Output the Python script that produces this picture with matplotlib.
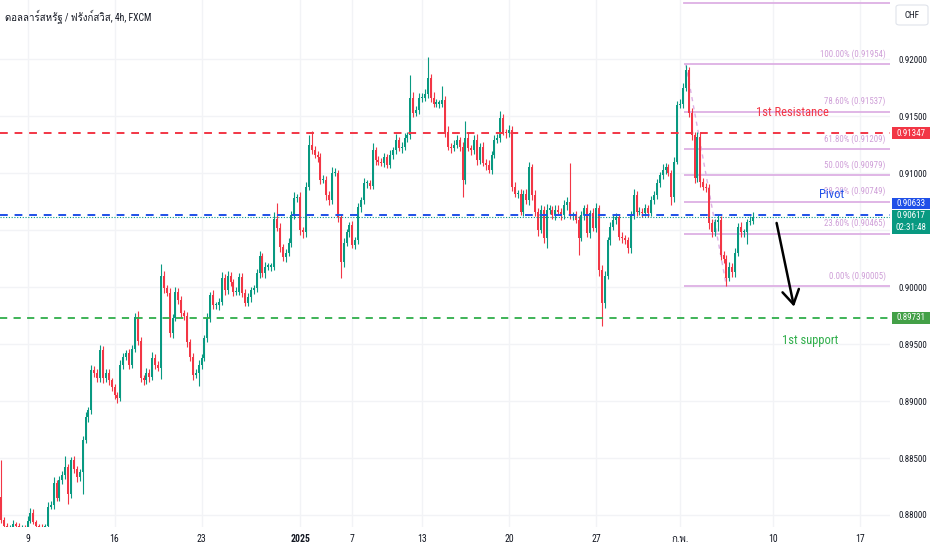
import numpy as np
import matplotlib
matplotlib.use("Agg")
import matplotlib.pyplot as plt
import matplotlib.font_manager as fm
from matplotlib.ft2font import FT2Font
from matplotlib.patches import Rectangle, FancyBboxPatch

# ---------------- data ----------------
title = "ดอลลาร์สหรัฐ / ฟรังก์สวิส, 4h, FXCM"
first_open = 0.8816
closes = [
    0.8796, 0.8790, 0.8788, 0.8789, 0.8792, 0.8790, 0.8787, 0.8789, 0.8788, 0.8795,
    0.8802, 0.8794, 0.8790, 0.8789, 0.8787, 0.8790, 0.8807, 0.8809, 0.8828, 0.8815,
    0.8831, 0.8835, 0.8842, 0.8818, 0.8848, 0.8840, 0.8833, 0.8838, 0.8866, 0.8886,
    0.8892, 0.8927, 0.8925, 0.8920, 0.8945, 0.8920, 0.8925, 0.8918, 0.8912, 0.8905,
    0.8903, 0.8932, 0.8939, 0.8942, 0.8932, 0.8946, 0.8974, 0.8953, 0.8920, 0.8918,
    0.8925, 0.8921, 0.8938, 0.8932, 0.8929, 0.9010, 0.8999, 0.8995, 0.8960, 0.8973,
    0.8996, 0.8989, 0.8977, 0.8975, 0.8952, 0.8939, 0.8923, 0.8925, 0.8932, 0.8938,
    0.8955, 0.8973, 0.8993, 0.8984, 0.8984, 0.8987, 0.9008, 0.8997, 0.9010, 0.9004,
    0.8996, 0.8996, 0.9009, 0.8995, 0.8986, 0.8991, 0.8997, 0.8999, 0.9012, 0.9027,
    0.9012, 0.9018, 0.9018, 0.9018, 0.9060, 0.9052, 0.9035, 0.9026, 0.9030, 0.9039,
    0.9063, 0.9078, 0.9079, 0.9050, 0.9048, 0.9088, 0.9125, 0.9120, 0.9116, 0.9114,
    0.9094, 0.9094, 0.9081, 0.9076, 0.9100, 0.9100, 0.9061, 0.9022, 0.9039, 0.9048,
    0.9054, 0.9037, 0.9041, 0.9070, 0.9076, 0.9091, 0.9091, 0.9089, 0.9120, 0.9111,
    0.9110, 0.9109, 0.9114, 0.9107, 0.9116, 0.9120, 0.9129, 0.9122, 0.9123, 0.9131,
    0.9133, 0.9166, 0.9153, 0.9155, 0.9166, 0.9166, 0.9169, 0.9183, 0.9166, 0.9161,
    0.9161, 0.9161, 0.9164, 0.9136, 0.9123, 0.9122, 0.9125, 0.9129, 0.9123, 0.9094,
    0.9131, 0.9122, 0.9120, 0.9129, 0.9111, 0.9123, 0.9109, 0.9107, 0.9103, 0.9116,
    0.9129, 0.9131, 0.9148, 0.9136, 0.9135, 0.9138, 0.9088, 0.9082, 0.9082, 0.9066,
    0.9082, 0.9076, 0.9105, 0.9081, 0.9066, 0.9050, 0.9068, 0.9043, 0.9068, 0.9068,
    0.9063, 0.9068, 0.9066, 0.9063, 0.9072, 0.9075, 0.9063, 0.9063, 0.9059, 0.9043,
    0.9063, 0.9069, 0.9047, 0.9065, 0.9052, 0.9069, 0.9015, 0.8986, 0.9010, 0.9041,
    0.9053, 0.9059, 0.9061, 0.9044, 0.9043, 0.9041, 0.9034, 0.9063, 0.9081, 0.9066,
    0.9066, 0.9065, 0.9069, 0.9065, 0.9076, 0.9081, 0.9091, 0.9098, 0.9103, 0.9105,
    0.9100, 0.9079, 0.9110, 0.9160, 0.9161, 0.9175, 0.9190, 0.9153, 0.9133, 0.9096,
    0.9132, 0.9092, 0.9088, 0.9087, 0.9056, 0.9048, 0.9057, 0.9059, 0.9028, 0.9025,
    0.9008, 0.9018, 0.9013, 0.9030, 0.9053, 0.9048, 0.9048, 0.9057, 0.9058, 0.90617,
]
# wick lengths beyond the candle body, in pips (0.0001)
upper_wick_pips = [
    32, 2, 3, 2, 4, 2, 3, 2, 2, 4, 4, 3, 2, 2, 3, 2, 4, 3, 5, 3,
    3, 4, 10, 3, 3, 4, 3, 2, 3, 4, 3, 5, 4, 3, 4, 3, 3, 3, 2, 3,
    3, 4, 3, 3, 4, 3, 3, 5, 3, 3, 4, 3, 5, 3, 3, 10, 4, 3, 4, 3,
    4, 3, 3, 3, 3, 2, 3, 3, 4, 3, 3, 4, 3, 4, 3, 3, 5, 3, 4, 3,
    3, 4, 3, 3, 3, 4, 3, 3, 4, 5, 3, 4, 3, 3, 6, 14, 4, 3, 3, 4,
    4, 5, 3, 4, 3, 4, 8, 12, 4, 3, 4, 4, 3, 3, 5, 4, 3, 3, 4, 3,
    3, 4, 3, 4, 3, 5, 3, 3, 6, 3, 4, 3, 4, 3, 4, 3, 5, 3, 4, 4,
    3, 20, 5, 4, 4, 4, 5, 19, 4, 5, 4, 3, 12, 4, 5, 3, 4, 4, 3, 4,
    15, 4, 3, 4, 5, 3, 4, 3, 4, 3, 4, 3, 6, 4, 3, 4, 3, 4, 3, 4,
    3, 4, 5, 3, 4, 3, 4, 3, 5, 4, 3, 4, 4, 3, 4, 4, 34, 3, 4, 3,
    4, 3, 4, 3, 4, 5, 3, 4, 4, 3, 4, 5, 4, 3, 4, 3, 3, 4, 5, 3,
    4, 3, 4, 3, 4, 3, 4, 3, 5, 4, 3, 3, 4, 3, 4, 4, 5, 3, 4, 3,
    4, 3, 4, 3, 3, 4, 3, 4, 3, 4, 3, 4, 3, 4, 3, 4, 3, 3, 4, 4,
]
lower_wick_pips = [
    3, 2, 2, 2, 2, 3, 2, 2, 2, 3, 2, 2, 2, 3, 2, 2, 3, 2, 4, 3,
    3, 4, 3, 8, 3, 3, 4, 3, 20, 3, 4, 3, 4, 3, 3, 4, 3, 4, 3, 3,
    5, 3, 4, 3, 4, 3, 3, 4, 3, 4, 3, 4, 3, 4, 3, 10, 4, 3, 4, 5,
    3, 4, 3, 4, 5, 4, 5, 3, 12, 4, 3, 3, 4, 3, 3, 4, 3, 4, 3, 3,
    4, 3, 3, 4, 3, 3, 4, 3, 3, 4, 3, 4, 3, 4, 3, 3, 4, 3, 4, 3,
    4, 3, 3, 4, 5, 4, 3, 3, 3, 4, 4, 3, 5, 4, 3, 3, 4, 14, 4, 3,
    4, 3, 4, 3, 4, 3, 4, 3, 3, 4, 3, 3, 4, 3, 3, 4, 3, 3, 4, 3,
    4, 3, 4, 3, 3, 4, 3, 3, 4, 3, 3, 4, 3, 4, 3, 4, 3, 3, 4, 15,
    4, 3, 4, 3, 4, 3, 3, 4, 3, 4, 3, 3, 4, 3, 4, 3, 4, 3, 4, 3,
    4, 3, 4, 5, 4, 5, 3, 4, 9, 4, 3, 4, 3, 4, 3, 4, 3, 4, 3, 15,
    3, 4, 3, 4, 3, 4, 5, 20, 4, 3, 4, 3, 4, 3, 4, 3, 4, 4, 3, 4,
    3, 4, 3, 4, 3, 3, 4, 3, 3, 4, 3, 7, 4, 2, 3, 4, 3, 4, 4, 5,
    4, 4, 3, 4, 5, 4, 3, 8, 4, 4, 7, 3, 4, 4, 3, 4, 4, 10, 3, 3,
]

x_tick_pos = [9, 39, 69, 103, 121, 145, 175, 205, 234, 266, 296]
x_tick_labels = ["9", "16", "23", "2025", "7", "13", "20", "27", "ก.พ.", "10", "17"]
y_ticks = [0.880, 0.885, 0.890, 0.895, 0.900, 0.905, 0.910, 0.915, 0.920]
y_tick_labels = ["0.88000", "0.88500", "0.89000", "0.89500", "0.90000", "", "0.91000", "0.91500", "0.92000"]

resistance = 0.91347
pivot = 0.90633
support = 0.89731
last_price = 0.90617
countdown = "02:31:48"

fib_ratios = ["100.00%", "78.60%", "61.80%", "50.00%", "38.20%", "23.60%", "0.00%"]
fib_prices = [0.91954, 0.91537, 0.91209, 0.90979, 0.90749, 0.90465, 0.90005]
fib_extra_price = 0.92494
fib_start_bar = 236
fib_end_bar = 250

arrow_from = (267.3, 0.90562)
arrow_to = (273.3, 0.89828)

# ---------------- fonts ----------------
names = {f.name for f in fm.fontManager.ttflist}
base = None
stretch = "normal"
for cand in ["Liberation Sans Narrow", "Roboto Condensed", "Open Sans Condensed"]:
    if cand in names:
        base = cand
        break
if base is None:
    if any(f.name == "DejaVu Sans" and str(f.stretch) in ("condensed", "semi-condensed") for f in fm.fontManager.ttflist):
        base = "DejaVu Sans"
        stretch = "condensed"
    else:
        base = "Liberation Sans"

thai = None
for f in fm.fontManager.ttflist:
    try:
        if ord("ด") in FT2Font(f.fname).get_charmap():
            thai = f.name
            break
    except Exception:
        pass

fams = [base] + ([thai] if thai else []) + ["DejaVu Sans"]
plt.rcParams["font.family"] = fams
plt.rcParams["font.stretch"] = stretch

# ---------------- figure ----------------
W, H = 932, 550
fig = plt.figure(figsize=(W / 100, H / 100), dpi=100)
fig.patch.set_facecolor("white")
ax = fig.add_axes([0, 23 / H, 890 / W, 527 / H])
ax.set_facecolor("white")

n = len(closes)
idx = np.arange(n)
c = np.array(closes)
o = np.array([first_open] + closes[:-1])
hi = np.maximum(o, c) + np.array(upper_wick_pips) * 1e-4
lo = np.minimum(o, c) - np.array(lower_wick_pips) * 1e-4
up = c >= o
UP, DN = "#089981", "#F23645"
cols = np.where(up, UP, DN)

ax.set_xlim(-0.5, 306.4)
ax.set_ylim(0.878947, 0.92518)

# grid
for xt in x_tick_pos:
    ax.axvline(xt, color="#F2F3F6", lw=1, zorder=0)
for yt in y_ticks:
    ax.axhline(yt, color="#F2F3F6", lw=1, zorder=0)

# candles
ax.vlines(idx, lo, hi, colors=cols, lw=0.8, zorder=3)
body_bottom = np.minimum(o, c)
body_h = np.maximum(np.abs(c - o), 0.00009)
ax.bar(idx, body_h, bottom=body_bottom, width=0.7, color=cols, edgecolor="none", zorder=4)

# fib retracement
FIB_LINE = "#DDB0E4"
FIB_TXT = "#CF9FD8"
xf0 = fib_start_bar - 0.5
xf1 = 306.4
for r, p in zip(fib_ratios, fib_prices):
    ax.plot([xf0, xf1], [p, p], color=FIB_LINE, lw=1.3, zorder=2, solid_capstyle="butt")
    ax.annotate(f"{r} ({p:.5f})", xy=(304.9, p), xytext=(0, 4), textcoords="offset points",
                ha="right", va="bottom", fontsize=6.3, color=FIB_TXT, zorder=5)
ax.plot([xf0, xf1], [fib_extra_price, fib_extra_price], color=FIB_LINE, lw=1.3, zorder=2)
ax.plot([fib_start_bar, fib_end_bar], [fib_prices[0], fib_prices[-1]], color=FIB_LINE,
        lw=1.0, ls=(0, (3, 3)), zorder=2)

# horizontal levels
ax.axhline(resistance, color="#F23645", lw=1.4, ls=(0, (4, 3.5)), zorder=5)
ax.axhline(pivot, color="#2050E8", lw=1.4, ls=(0, (4, 3.5)), zorder=5)
ax.axhline(support, color="#2FAE4A", lw=1.3, ls=(0, (4, 3.5)), zorder=5)
ax.axhline(last_price, color="#089981", lw=0.8, ls=(0, (1, 1.5)), zorder=5)

# annotation texts
ax.text(272.8, 0.91535, "1st Resistance", color="#F23645", fontsize=9.0, ha="center", va="center", zorder=6)
ax.text(286.3, 0.90810, "Pivot", color="#2050E8", fontsize=9.0, ha="center", va="center", zorder=6)
ax.text(278.7, 0.89532, "1st support", color="#2FAE4A", fontsize=9.0, ha="center", va="center", zorder=6)

ax.annotate("", xy=arrow_to, xytext=arrow_from,
            arrowprops=dict(arrowstyle="->,head_length=1.0,head_width=0.6", color="black", lw=1.8,
                            shrinkA=0, shrinkB=0), zorder=7)

# axes cosmetics
for s in ax.spines.values():
    s.set_visible(False)
ax.yaxis.tick_right()
ax.set_yticks(y_ticks)
ax.set_yticklabels(y_tick_labels)
ax.set_xticks(x_tick_pos)
ax.set_xticklabels(x_tick_labels)
ax.tick_params(axis="y", length=0, pad=6, labelsize=6.5, labelcolor="#131722")
ax.tick_params(axis="x", length=0, pad=5, labelsize=7.0, labelcolor="#131722")
for lbl in ax.get_xticklabels():
    if lbl.get_text() == "2025":
        lbl.set_fontweight("bold")

# price boxes on the right scale
ytr = ax.get_yaxis_transform()
px = (0.92518 - 0.878947) / 527.0  # price per pixel
BOX_X0 = 892 / 890
BOX_W = 38 / 890
BOX_XC = 911 / 890


def price_box(price, text, color, h_px=12, dy_px=0):
    yc = price + dy_px * px
    rect = Rectangle((BOX_X0, yc - h_px / 2 * px), BOX_W, h_px * px, transform=ytr,
                     facecolor=color, edgecolor="none", clip_on=False, zorder=20)
    ax.add_patch(rect)
    ax.text(BOX_XC, yc, text, transform=ytr, ha="center", va="center", color="white",
            fontsize=6.5, clip_on=False, zorder=21)


price_box(resistance, f"{resistance:.5f}", "#F23645", h_px=12)
price_box(pivot, f"{pivot:.5f}", "#2050E8", h_px=11, dy_px=11)
# last price box with countdown
yc = last_price
rect = Rectangle((BOX_X0, yc - 17 * px), BOX_W, 24 * px, transform=ytr,
                 facecolor="#089981", edgecolor="none", clip_on=False, zorder=20)
ax.add_patch(rect)
ax.text(BOX_XC, yc + 1 * px, f"{last_price:.5f}", transform=ytr, ha="center", va="center",
        color="white", fontsize=6.5, clip_on=False, zorder=21)
ax.text(BOX_XC, yc - 11 * px, countdown, transform=ytr, ha="center", va="center",
        color="white", fontsize=6.5, clip_on=False, zorder=21)
price_box(support, f"{support:.5f}", "#43A047", h_px=12)

# CHF box
chf = FancyBboxPatch((896 / W, 1 - 25 / H), 32 / W, 20 / H, boxstyle="round,pad=0,rounding_size=0.004",
                     transform=fig.transFigure, facecolor="white", edgecolor="#E0E3EB", lw=0.8, zorder=20)
fig.patches.append(chf)
fig.text(912 / W, 1 - 15 / H, "CHF", ha="center", va="center", fontsize=6.5, color="#131722", zorder=25)

# title
fig.text(5 / W, 1 - 17 / H, title, ha="left", va="center", fontsize=7.0, color="#131722")

fig.savefig("out.png", dpi=100, facecolor="white")
